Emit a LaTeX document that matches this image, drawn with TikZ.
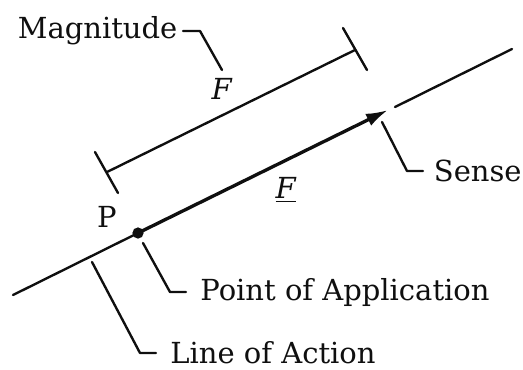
\documentclass[tikz,border=0pt]{standalone}
\usepackage{fontspec}
\setmainfont{DejaVu Serif}
\usepackage{tikz}
\usetikzlibrary{arrows.meta}
\definecolor{ink}{RGB}{15, 15, 15}

\begin{document}
\begin{tikzpicture}[x=0.02cm, y=-0.02cm,
    thinline/.style={ink, line width=1.35pt, line cap=round, line join=round},
    labeltext/.style={ink, inner ysep=0pt, inner xsep=8pt, font=\fontsize{16.5}{20}\selectfont}]
  \useasboundingbox (0, 0) rectangle (523, 369);

  % Points on the line of action
  \coordinate (loaA) at (13, 295);
  \coordinate (loaB) at (512, 49);
  \coordinate (pt) at (138, 233);
  \coordinate (tip) at (388, 110);
  \coordinate (gap) at (395, 107);

  % Labels
  \node[labeltext, anchor=east, inner xsep=3pt] (magn) at (183, 31) {Magnitude};
  \node[labeltext, anchor=west, inner xsep=6pt] (sense) at (423, 171) {Sense};
  \node[labeltext, anchor=west] (poa) at (186, 292) {Point of Application};
  \node[labeltext, anchor=west] (loa) at (156, 353) {Line of Action};
  \node[labeltext, inner sep=0pt] (P) at (107, 217) {P};
  \node[labeltext, inner sep=0pt] (Fmag) at (222, 89) {\textit{F}};
  \node[labeltext, inner sep=0pt] (Fvec) at (286, 190) {\underline{\textit{F}}};

  % Line of action
  \draw[thinline] (loaA) -- (pt);
  \draw[thinline] (gap) -- (loaB);

  % Force vector
  \draw[ink, line width=1.9pt, -{Latex[length=12.5pt, width=7.5pt]}] (pt) -- (tip);
  \fill[ink] (pt) circle (3.2pt);

  % Magnitude dimension line
  \coordinate (dimA) at (107, 172);
  \coordinate (dimB) at (355, 50);
  \draw[thinline] (dimA) -- (dimB);
  \foreach \x/\y/\u/\v in {95/152/118/193, 343/28/367/70} {
    \draw[thinline] (\x, \y) -- (\u, \v);
  }

  % Leaders
  \coordinate (magnbend) at (200, 31);
  \coordinate (magnfoot) at (222, 70);
  \draw[thinline] (magn.east) -- (magnbend) -- (magnfoot);

  \coordinate (sensefoot) at (382, 122);
  \coordinate (sensebend) at (407, 171);
  \draw[thinline] (sensefoot) -- (sensebend) -- (sense.west);

  \coordinate (poafoot) at (143, 243);
  \coordinate (poabend) at (170, 292);
  \draw[thinline] (poafoot) -- (poabend) -- (poa.west);

  \coordinate (loafoot) at (92, 262);
  \coordinate (loabend) at (140, 353);
  \draw[thinline] (loafoot) -- (loabend) -- (loa.west);

\end{tikzpicture}
\end{document}
